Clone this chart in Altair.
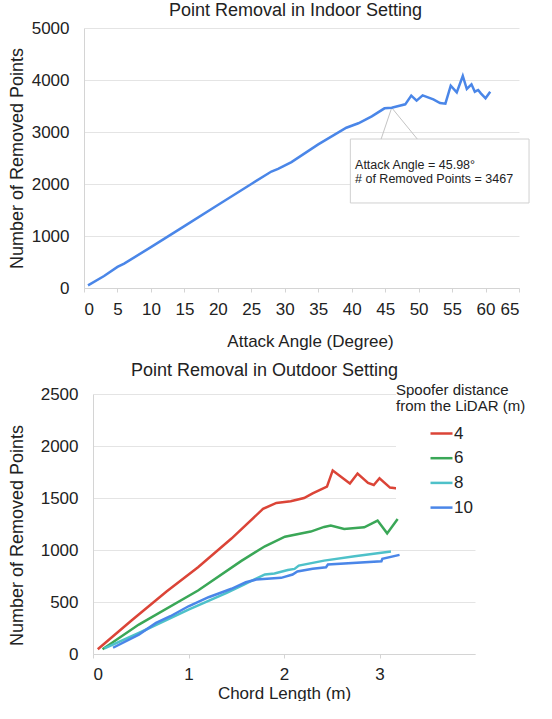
import altair as alt
import pandas as pd

FONT = "Liberation Sans"
TEXT = "#222222"
GRID = "#e4e4e4"
DOMAIN = "#d4d4d4"

# ---------------- Indoor data ----------------
indoor_angle = [0.6, 3, 5, 6, 10, 15, 20, 25, 28, 29, 31, 35, 39.2, 41, 43,
                44.9, 45.98, 48.0, 48.9, 49.7, 50.6, 52.2, 53.2, 54.0, 54.8,
                55.7, 56.6, 57.2, 57.9, 58.4, 58.9, 59.3, 60.0, 60.7]
indoor_points = [50, 230, 405, 470, 785, 1190, 1595, 2000, 2240, 2290, 2420,
                 2762, 3082, 3168, 3300, 3455, 3467, 3532, 3700, 3603, 3705,
                 3628, 3558, 3545, 3891, 3763, 4077, 3827, 3917, 3775, 3808,
                 3744, 3648, 3775]
indoor_x_ticks = [0, 5, 10, 15, 20, 25, 30, 35, 40, 45, 50, 55, 60, 65]
indoor_y_ticks = [0, 1000, 2000, 3000, 4000, 5000]

annot_angle = 45.98
annot_points = 3467
annot_lines = ["Attack Angle = 45.98°", "# of Removed Points = 3467"]

# ---------------- Outdoor data ----------------
d4_x = [0.05, 0.4, 0.77, 1.1, 1.45, 1.78, 1.92, 2.07, 2.21, 2.30, 2.45, 2.51,
        2.69, 2.77, 2.88, 2.94, 3.0, 3.11, 3.21]
d4_y = [45, 320, 600, 835, 1110, 1395, 1453, 1468, 1500, 1545, 1610, 1765,
        1640, 1735, 1645, 1625, 1690, 1600, 1590]
d6_x = [0.1, 0.48, 1.1, 1.55, 1.8, 2.01, 2.28, 2.42, 2.49, 2.63, 2.84, 2.98,
        3.08, 3.19]
d6_y = [45, 283, 610, 893, 1036, 1128, 1177, 1222, 1235, 1203, 1218, 1283,
        1160, 1299]
d8_x = [0.12, 0.48, 1.0, 1.4, 1.58, 1.8, 1.9, 2.04, 2.11, 2.155, 2.42, 2.74,
        3.12]
d8_y = [55, 202, 427, 588, 668, 765, 775, 808, 818, 850, 898, 940, 985]
d10_x = [0.21, 0.48, 0.66, 0.81, 1.0, 1.21, 1.45, 1.6, 1.71, 1.97, 2.09, 2.14,
         2.30, 2.44, 2.46, 3.02, 3.03, 3.21]
d10_y = [60, 186, 299, 363, 459, 546, 627, 690, 716, 732, 764, 793, 819, 834,
         860, 892, 915, 953]
outdoor_x_ticks = [0, 1, 2, 3]
outdoor_y_ticks = [0, 500, 1000, 1500, 2000, 2500]
legend_order = ["4", "6", "8", "10"]
legend_colors = ["#db4437", "#3aa757", "#4ec1c9", "#4a86e8"]

# ---------------- Indoor chart ----------------
top_df = pd.DataFrame({"angle": indoor_angle, "points": indoor_points})

x_top = alt.X(
    "angle:Q",
    scale=alt.Scale(domain=[0, 65], nice=False, zero=False),
    axis=alt.Axis(title="Attack Angle (Degree)", values=indoor_x_ticks,
                  grid=False, tickSize=4, labelPadding=9, titlePadding=16,
                  labelFontSize=17, titleFontSize=17, titleX=226,
                  labelOverlap=False),
)
y_top = alt.Y(
    "points:Q",
    scale=alt.Scale(domain=[0, 5000], nice=False),
    axis=alt.Axis(title="Number of Removed Points", values=indoor_y_ticks,
                  format="d", tickSize=0, labelPadding=15, titlePadding=5,
                  labelFontSize=17, titleFontSize=18, labelOverlap=False),
)

line_top = alt.Chart(top_df).mark_line(color="#4a86e8", strokeWidth=2.5).encode(
    x=x_top, y=y_top
)

box_df = pd.DataFrame({"angle": [39.8], "angle2": [66.5],
                       "points": [2865], "points2": [1635]})
box = alt.Chart(box_df).mark_rect(fill="white", stroke="#d0d0d0",
                                  strokeWidth=1).encode(
    x=x_top, x2="angle2:Q", y=y_top, y2="points2:Q"
)

callout_df = pd.DataFrame({"angle": [annot_angle, annot_angle],
                           "points": [annot_points, annot_points],
                           "angle2": [44.4, 49.8],
                           "points2": [2865, 2865]})
callout = alt.Chart(callout_df).mark_rule(color="#c4c4c4", strokeWidth=1).encode(
    x=x_top, y=y_top, x2="angle2:Q", y2="points2:Q"
)

text_df = pd.DataFrame({"angle": [40.5, 40.5], "points": [2365, 2096],
                        "label": annot_lines})
annot_text = alt.Chart(text_df).mark_text(
    align="left", baseline="middle", font=FONT, fontSize=12.5, color=TEXT
).encode(x=x_top, y=y_top, text="label:N")

top = alt.layer(box, callout, line_top, annot_text).properties(
    width=435, height=260,
    title=alt.TitleParams("Point Removal in Indoor Setting", fontSize=18,
                          font=FONT, fontWeight="normal", color=TEXT,
                          anchor="middle", frame="group", dx=-6, offset=-1),
)

# ---------------- Outdoor chart ----------------
rows = []
for name, xs, ys in [("4", d4_x, d4_y), ("6", d6_x, d6_y),
                     ("8", d8_x, d8_y), ("10", d10_x, d10_y)]:
    for xv, yv in zip(xs, ys):
        rows.append({"chord": xv, "points": yv, "dist": name})
bot_df = pd.DataFrame(rows)

SHIFT = 9  # bottom plot sits 9px right of the top plot
bottom = alt.Chart(bot_df).mark_line(strokeWidth=2.5).encode(
    x=alt.X("chord:Q",
            scale=alt.Scale(domain=[0, 4], nice=False, range=[SHIFT, 382 + SHIFT]),
            axis=alt.Axis(title="Chord Length (m)", values=outdoor_x_ticks,
                          grid=False, tickSize=4, labelPadding=8,
                          titlePadding=3, labelFontSize=17, titleFontSize=17,
                          labelOverlap=False)),
    y=alt.Y("points:Q", scale=alt.Scale(domain=[0, 2500], nice=False),
            axis=alt.Axis(title="Number of Removed Points",
                          values=outdoor_y_ticks, format="d", tickSize=0,
                          offset=-SHIFT,
                          labelPadding=15, titlePadding=14, labelFontSize=17,
                          titleFontSize=18, titleY=141, labelOverlap=False)),
    color=alt.Color("dist:N", sort=legend_order,
                    scale=alt.Scale(domain=legend_order, range=legend_colors),
                    legend=alt.Legend(
                        title=["Spoofer distance", "from the LiDAR (m)"],
                        orient="none", legendX=312, legendY=-11,
                        titleFontSize=15, titleFont=FONT, titleColor=TEXT,
                        titleFontWeight="normal", titleLineHeight=16,
                        titlePadding=7, labelFontSize=17, labelFont=FONT,
                        labelColor=TEXT, symbolType="stroke", symbolSize=484,
                        symbolStrokeWidth=2.5, symbolOffset=33, labelOffset=0,
                        rowPadding=3.7, fillColor="white", padding=0)),
    detail="dist:N",
).properties(
    width=382 + SHIFT, height=260,
    title=alt.TitleParams("Point Removal in Outdoor Setting", fontSize=18,
                          font=FONT, fontWeight="normal", color=TEXT,
                          anchor="middle", frame="group", dx=-15, offset=3),
)

chart = alt.concat(top, bottom, columns=1, spacing=13, align="none").resolve_scale(
    color="independent"
).resolve_legend(color="independent").properties(
    padding={"left": 8, "top": 2, "right": 0, "bottom": 0}
).configure_axis(
    labelFont=FONT, titleFont=FONT, labelColor=TEXT, titleColor=TEXT,
    titleFontWeight="normal", gridColor=GRID, domainColor=DOMAIN,
    tickColor=DOMAIN, domainWidth=1, gridWidth=1,
).configure_view(stroke=None)

chart.save("out.html", embed_options={"renderer": "svg", "actions": False})
